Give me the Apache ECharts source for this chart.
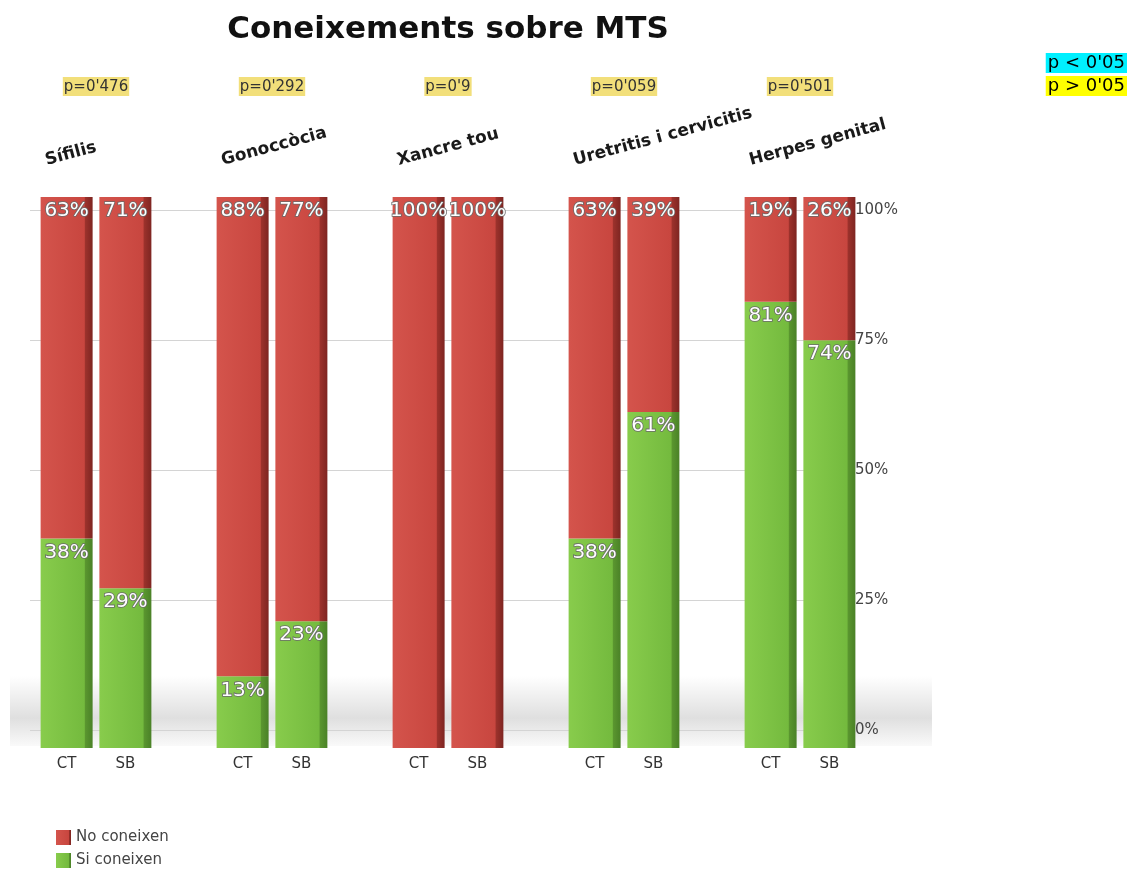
<!DOCTYPE html>
<html>
<head>
<meta charset="utf-8">
<script src="https://cdn.jsdelivr.net/npm/echarts@6/dist/echarts.min.js"></script>
<style>
  html, body { margin: 0; padding: 0; background: #fff; }
  #chart { width: 1134px; height: 872px; }
</style>
</head>
<body>
<div id="chart"></div>
<script>
// MTS knowledge, CT vs SB groups (percentages)
const diseases = ['Sífilis', 'Gonoccòcia', 'Xancre tou', 'Uretritis i cervicitis', 'Herpes genital']
const pValues = ["p=0'476", "p=0'292", "p=0'9", "p=0'059", "p=0'501"]
const groups = ['CT', 'SB']
const ctSi = [38, 13, 0, 38, 81]
const ctNo = [63, 88, 100, 63, 19]
const sbSi = [29, 23, 0, 61, 74]
const sbNo = [71, 77, 100, 39, 26]
const yTicks = [0, 25, 50, 75, 100]

const FONT = '"DejaVu Sans", "Liberation Sans", sans-serif'

const red = new echarts.graphic.LinearGradient(0, 0, 1, 0, [
  { offset: 0, color: '#d4544c' },
  { offset: 0.84, color: '#c8463f' },
  { offset: 0.86, color: '#9c322c' },
  { offset: 1, color: '#7e2521' },
])
const green = new echarts.graphic.LinearGradient(0, 0, 1, 0, [
  { offset: 0, color: '#88cc4c' },
  { offset: 0.84, color: '#74ba3e' },
  { offset: 0.86, color: '#5a962f' },
  { offset: 1, color: '#4a8127' },
])

const pctLabel = {
  show: true,
  position: 'insideTop',
  distance: 4,
  fontFamily: FONT,
  fontSize: 20,
  color: '#fff',
  textBorderColor: '#6a6a6a',
  textBorderWidth: 1.6,
  formatter: p => p.value > 0 ? p.value + '%' : '',
}

function barSeries(name, stack, data, color) {
  return {
    name, type: 'bar', stack, data,
    xAxisIndex: 0, yAxisIndex: 0,
    barWidth: 52, barGap: '13%',
    clip: true, z: 3,
    itemStyle: { color },
    label: pctLabel,
  }
}

const chart = echarts.init(document.getElementById('chart'), null, { renderer: 'canvas' })

chart.setOption({
  backgroundColor: '#fff',
  animation: false,
  textStyle: { fontFamily: FONT },
  title: {
    text: 'Coneixements sobre MTS',
    left: 443, top: 9, textAlign: 'center',
    textStyle: { fontFamily: FONT, fontSize: 31, fontWeight: 'bold', color: '#111' },
  },
  legend: {
    data: ['No coneixen', 'Si coneixen'],
    orient: 'vertical', left: 56, top: 830, padding: 0,
    icon: 'rect', itemWidth: 15, itemHeight: 15, itemGap: 8,
    textStyle: { fontFamily: FONT, fontSize: 15, color: '#444' },
  },
  graphic: [
    {
      type: 'rect', z: 0, silent: true,
      shape: { x: 10, y: 676, width: 922, height: 70 },
      style: {
        fill: new echarts.graphic.LinearGradient(0, 0, 0, 1, [
          { offset: 0, color: 'rgba(150,150,150,0)' },
          { offset: 0.6, color: 'rgba(150,150,150,0.3)' },
          { offset: 1, color: 'rgba(150,150,150,0.05)' },
        ]),
      },
    },
    {
      type: 'text', right: 7, top: 53, z: 10,
      style: { text: "p < 0'05", font: '18px ' + FONT, fill: '#000', backgroundColor: '#00f0ff', padding: [1, 2, 1, 2] },
    },
    {
      type: 'text', right: 7, top: 76, z: 10,
      style: { text: "p > 0'05", font: '18px ' + FONT, fill: '#000', backgroundColor: '#ffff00', padding: [1, 2, 1, 2] },
    },
  ],
  grid: [
    { left: 8, right: 246, top: 197, bottom: 124 },
    { left: 30, right: 283, top: 210, bottom: 142 },
  ],
  xAxis: [
    {
      gridIndex: 0, type: 'category', position: 'bottom', data: diseases,
      axisLine: { show: false }, axisTick: { show: false },
      axisLabel: {
        margin: 9,
        formatter: () => groups.map((g, i) => `{g${i}|${g}}`).join(''),
        rich: {
          g0: { width: 59, align: 'center', fontSize: 15, color: '#333', fontFamily: FONT },
          g1: { width: 59, align: 'center', fontSize: 15, color: '#333', fontFamily: FONT },
        },
      },
    },
    {
      gridIndex: 0, type: 'category', position: 'top', data: diseases,
      axisLine: { show: false }, axisTick: { show: false },
      axisLabel: {
        margin: 41, rotate: -15, align: 'center', verticalAlign: 'bottom',
        formatter: v => `{n|${v}}`,
        rich: { n: { width: 100, align: 'left', fontSize: 17, fontWeight: 'bold', color: '#1a1a1a', fontFamily: FONT } },
      },
    },
    {
      gridIndex: 0, type: 'category', position: 'top', data: pValues,
      axisLine: { show: false }, axisTick: { show: false },
      axisLabel: {
        margin: 101,
        backgroundColor: '#f2df7a', padding: [3, 1, 1, 1],
        fontSize: 15, color: '#333', fontFamily: FONT,
      },
    },
    { gridIndex: 1, type: 'value', show: false },
  ],
  yAxis: [
    { gridIndex: 0, type: 'value', min: 0, max: 100, show: false },
    {
      // grid lines only, behind the bars
      gridIndex: 1, type: 'value', position: 'right', z: 0,
      min: yTicks[0], max: yTicks[yTicks.length - 1], interval: 25,
      axisLine: { show: false }, axisTick: { show: false }, axisLabel: { show: false },
      splitLine: { lineStyle: { color: '#d4d4d4', width: 1 } },
    },
    {
      // tick labels, drawn above the bars
      gridIndex: 1, type: 'value', position: 'right', z: 10,
      min: yTicks[0], max: yTicks[yTicks.length - 1], interval: 25,
      axisLine: { show: false }, axisTick: { show: false }, splitLine: { show: false },
      axisLabel: { margin: 4, formatter: '{value}%', fontSize: 15, color: '#444', fontFamily: FONT },
    },
  ],
  series: [
    barSeries('Si coneixen', 'CT', ctSi, green),
    barSeries('No coneixen', 'CT', ctNo, red),
    barSeries('Si coneixen', 'SB', sbSi, green),
    barSeries('No coneixen', 'SB', sbNo, red),
  ],
})
</script>
</body>
</html>
